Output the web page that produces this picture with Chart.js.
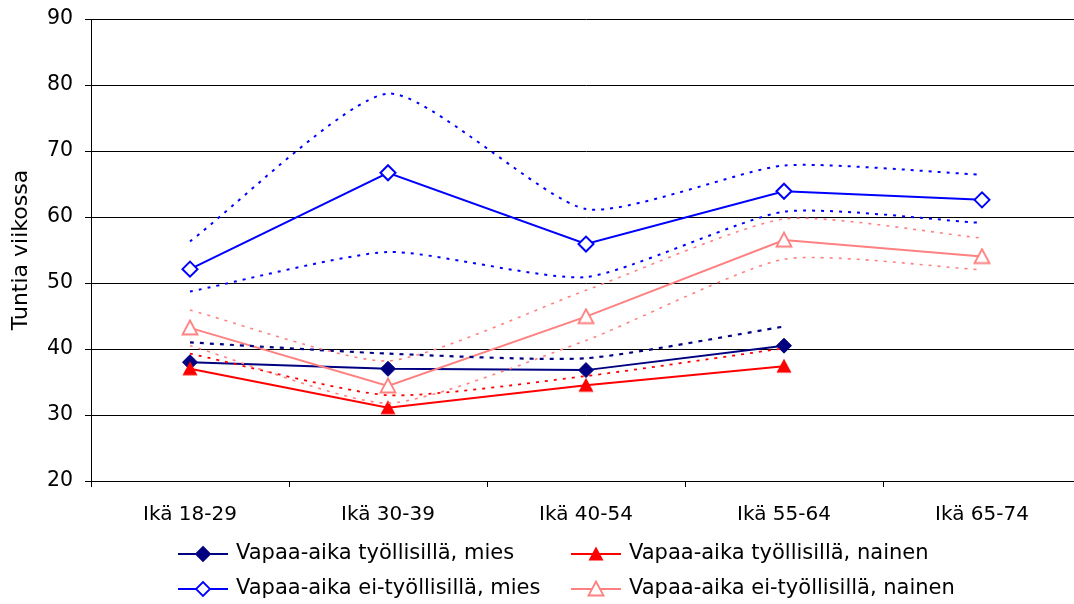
<!DOCTYPE html>
<html>
<head>
<meta charset="utf-8">
<script src="https://cdn.jsdelivr.net/npm/chart.js@4/dist/chart.umd.min.js"></script>
<style>
  html, body { margin: 0; padding: 0; background: #fff; overflow: hidden; }
  #wrap { position: relative; width: 1091px; height: 604px; }
  canvas { display: block; }
</style>
</head>
<body>
<div id="wrap"><canvas id="c" width="1091" height="604" style="width:1091px;height:604px"></canvas></div>
<script>
// ---- data ----
const categories = ['Ikä 18-29', 'Ikä 30-39', 'Ikä 40-54', 'Ikä 55-64', 'Ikä 65-74'];
const yTicks = [20, 30, 40, 50, 60, 70, 80, 90];
const miesTyo      = [38.0, 37.0, 36.8, 40.5, null];
const naisTyo      = [37.0, 31.1, 34.5, 37.4, null];
const miesEiTyo    = [52.1, 66.7, 55.9, 63.9, 62.6];
const naisEiTyo    = [43.2, 34.4, 44.9, 56.5, 54.0];
const miesTyoYla   = [41.0, 39.3, 38.6, 43.4, null];
const naisTyoYla   = [39.3, 33.0, 35.9, 40.1, null];
const miesEiTyoYla = [56.3, 78.7, 61.2, 67.8, 66.4];
const miesEiTyoAla = [48.7, 54.7, 50.9, 60.8, 59.1];
const naisEiTyoYla = [45.9, 38.2, 48.9, 59.7, 56.8];
const naisEiTyoAla = [40.5, 31.8, 41.3, 53.6, 52.0];
const seriesNames = [
  'Vapaa-aika työllisillä, mies',
  'Vapaa-aika työllisillä, nainen',
  'Vapaa-aika ei-työllisillä, mies',
  'Vapaa-aika ei-työllisillä, nainen'
];

const NAVY = '#000080', RED = '#FF0000', BLUE = '#0000FF', PINK = '#FF8080';
const FONT = '"DejaVu Sans", "Liberation Sans", Arial, sans-serif';

function makeTriangle(fill, stroke) {
  const c = document.createElement('canvas');
  c.width = 18; c.height = 18;
  const g = c.getContext('2d');
  g.beginPath();
  g.moveTo(9, 1.5); g.lineTo(16.5, 15.5); g.lineTo(1.5, 15.5); g.closePath();
  g.fillStyle = fill; g.fill();
  if (stroke) { g.lineWidth = 1.8; g.strokeStyle = stroke; g.stroke(); }
  return c;
}
const triRed = makeTriangle(RED, null);
const triPink = makeTriangle('#FFFFFF', PINK);

function ci(data, color, dash, width) {
  return {
    data, borderColor: color, borderWidth: width || 1.6, borderDash: dash || [3, 6],
    pointRadius: 0, pointHoverRadius: 0, tension: 0.2, fill: false, spanGaps: false
  };
}

const datasets = [
  ci(miesEiTyoYla, BLUE, [3, 6], 2),
  ci(miesEiTyoAla, BLUE, [3, 6], 2),
  ci(naisEiTyoYla, PINK, [3, 6], 1.6),
  ci(naisEiTyoAla, PINK, [3, 6], 1.6),
  ci(miesTyoYla, NAVY, [4, 6], 2.2),
  ci(naisTyoYla, RED, [3, 6], 1.8),
  { label: seriesNames[3], data: naisEiTyo, borderColor: PINK, borderWidth: 2, tension: 0,
    pointStyle: triPink, pointRadius: 8, legendMarker: 'tri', legendImg: triPink },
  { label: seriesNames[2], data: miesEiTyo, borderColor: BLUE, borderWidth: 2, tension: 0,
    pointStyle: 'rectRot', pointRadius: 7.5, pointBackgroundColor: '#FFFFFF',
    pointBorderColor: BLUE, pointBorderWidth: 2, legendMarker: 'diamond', legendFill: '#FFFFFF' },
  { label: seriesNames[1], data: naisTyo, borderColor: RED, borderWidth: 2, tension: 0,
    pointStyle: triRed, pointRadius: 8, legendMarker: 'tri', legendImg: triRed },
  { label: seriesNames[0], data: miesTyo, borderColor: NAVY, borderWidth: 2, tension: 0,
    pointStyle: 'rectRot', pointRadius: 7.5, pointBackgroundColor: NAVY,
    pointBorderColor: NAVY, pointBorderWidth: 1, legendMarker: 'diamond', legendFill: NAVY }
];

const legendPlugin = {
  id: 'customLegend',
  afterDraw(chart) {
    const ctx = chart.ctx;
    const pos = [[178, 554], [571, 554], [178, 589], [571, 589]];
    seriesNames.forEach((name, i) => {
      const ds = chart.data.datasets.find(d => d.label === name);
      const [x, y] = pos[i];
      ctx.save();
      ctx.strokeStyle = ds.borderColor; ctx.lineWidth = 2;
      ctx.beginPath(); ctx.moveTo(x, y); ctx.lineTo(x + 50, y); ctx.stroke();
      const cx = x + 25;
      if (ds.legendMarker === 'diamond') {
        const r = 7;
        ctx.beginPath();
        ctx.moveTo(cx, y - r); ctx.lineTo(cx + r, y); ctx.lineTo(cx, y + r); ctx.lineTo(cx - r, y); ctx.closePath();
        ctx.fillStyle = ds.legendFill; ctx.fill();
        ctx.lineWidth = 1.8; ctx.strokeStyle = ds.borderColor; ctx.stroke();
      } else {
        ctx.drawImage(ds.legendImg, cx - 9, y - 9);
      }
      ctx.fillStyle = '#000';
      ctx.font = '21px ' + FONT;
      ctx.textBaseline = 'middle';
      ctx.textAlign = 'left';
      ctx.fillText(name, x + 58, y);
      ctx.restore();
    });
  }
};

new Chart(document.getElementById('c'), {
  type: 'line',
  data: { labels: categories, datasets },
  options: {
    responsive: false,
    animation: false,
    events: [],
    layout: { padding: { top: 19, right: 1, bottom: 0, left: 0 } },
    plugins: { legend: { display: false }, tooltip: { enabled: false } },
    scales: {
      x: {
        type: 'category',
        offset: true,
        grid: { offset: true, drawOnChartArea: false, drawTicks: true, tickLength: 6, color: '#000', lineWidth: 1 },
        border: { color: '#000', width: 1 },
        ticks: { color: '#000', font: { family: FONT, size: 20 }, padding: 16, maxRotation: 0 },
        afterFit(s) { s.height = 123; s.paddingLeft = 0; s.paddingRight = 0; }
      },
      y: {
        min: 20, max: 90,
        afterBuildTicks(s) { s.ticks = yTicks.map(v => ({ value: v })); },
        grid: { color: '#000', lineWidth: 1, tickLength: 6, drawTicks: true },
        border: { color: '#000', width: 1 },
        ticks: { color: '#000', font: { family: FONT, size: 20.5 }, padding: 12 },
        title: { display: true, text: 'Tuntia viikossa', color: '#000',
                 font: { family: FONT, size: 22 }, padding: { top: 8, bottom: 0 } },
        afterFit(s) { s.width = 91; s.paddingTop = 0; s.paddingBottom = 0; }
      }
    }
  },
  plugins: [legendPlugin]
});
</script>
</body>
</html>
